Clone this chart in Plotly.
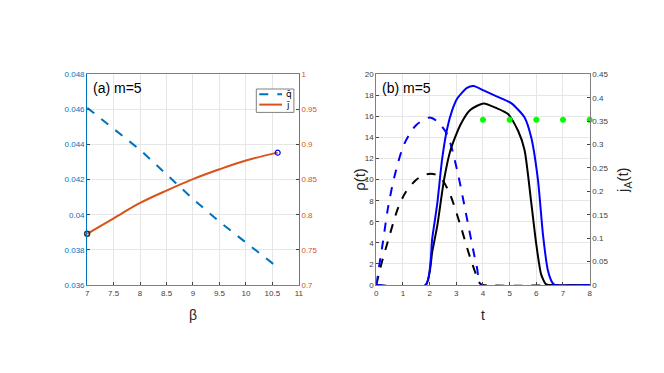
import plotly.graph_objects as go

# panel (a): averages vs beta
beta = [7.0, 7.5, 8.0, 8.5, 9.0, 9.5, 10.0, 10.6]
q_bar = [0.0461, 0.0449, 0.0437, 0.0423, 0.0409, 0.0396, 0.0384, 0.0370]
j_bar = [0.7728, 0.7948, 0.8168, 0.8345, 0.8508, 0.8648, 0.8773, 0.8885]

# panel (b): time traces
t_rho_blue = [0, 0.12, 0.25, 0.43, 0.68, 1.05, 1.5, 2.0, 2.3, 2.66, 3.03, 3.4, 3.77, 3.96, 8]
rho_blue = [0, 2, 4.1, 7.2, 10.3, 13.4, 15.2, 15.9, 15.5, 14.3, 10.9, 6.3, 1.7, 0, 0]
t_rho_black = [0, 0.19, 0.43, 0.8, 1.1, 1.5, 1.85, 2.2, 2.47, 2.78, 3.15, 3.52, 3.9, 4.0, 8]
rho_black = [0, 2, 4.1, 7.2, 8.8, 10.0, 10.5, 10.5, 10.0, 8.5, 5.7, 2.6, 0.1, 0, 0]

t_j_blue = [0, 1.85, 2.1, 2.29, 2.47, 2.66, 2.85, 3.03, 3.4, 3.65, 4.02, 4.51, 5.07, 5.56,
            5.81, 6.06, 6.25, 6.43, 6.6, 6.7, 8]
j_blue = [0, 0, 0.101, 0.176, 0.270, 0.335, 0.374, 0.398, 0.421, 0.425, 0.416, 0.403, 0.388,
          0.358, 0.315, 0.225, 0.107, 0.032, 0.005, 0, 0]
t_j_black = [0, 1.85, 2.1, 2.29, 2.54, 2.78, 3.15, 3.52, 4.02, 4.51, 4.95, 5.32, 5.56, 5.81,
             6.0, 6.18, 6.35, 6.45, 8]
j_black = [0, 0, 0.072, 0.128, 0.225, 0.288, 0.342, 0.374, 0.388, 0.378, 0.365, 0.329, 0.288,
           0.176, 0.086, 0.0225, 0.002, 0, 0]

t_green = [4, 5, 6, 7, 8]
j_green = [0.353, 0.353, 0.353, 0.353, 0.353]

legend_labels = ["q̄", "j̄"]

BLUE_M = "#0072BD"
ORANGE_M = "#D95319"
TICK = "#404040"
GRID = "#E6E6E6"
FONT = "Liberation Sans, Arial, sans-serif"

# page body adds 8px around the plot, so draw at 648x357
W, H = 648, 357

def px(x):
    return (x - 8) / W

def py(y):
    return 1 - (y - 8) / H

fig = go.Figure()

# panel (a)
fig.add_trace(go.Scatter(x=beta, y=q_bar, mode="lines", name=legend_labels[0],
                         line=dict(color=BLUE_M, width=2, dash="dash"),
                         xaxis="x", yaxis="y"))
fig.add_trace(go.Scatter(x=beta, y=j_bar, mode="lines", name=legend_labels[1],
                         line=dict(color=ORANGE_M, width=2, shape="spline"),
                         xaxis="x", yaxis="y2"))
fig.add_trace(go.Scatter(x=[beta[0]], y=[j_bar[0]], mode="markers",
                         marker=dict(symbol="circle-open", size=5, color="#333333",
                                     line=dict(width=1.5)),
                         cliponaxis=False, xaxis="x", yaxis="y2"))
fig.add_trace(go.Scatter(x=[beta[-1]], y=[j_bar[-1]], mode="markers",
                         marker=dict(symbol="circle-open", size=5, color="#0000FF",
                                     line=dict(width=1.2)),
                         xaxis="x", yaxis="y2"))

# panel (b)
fig.add_trace(go.Scatter(x=t_rho_black, y=rho_black, mode="lines",
                         line=dict(color="black", width=2, dash="dash", shape="spline", smoothing=0.8),
                         xaxis="x2", yaxis="y3"))
fig.add_trace(go.Scatter(x=t_rho_blue, y=rho_blue, mode="lines",
                         line=dict(color="#0000FF", width=2, dash="dash", shape="spline", smoothing=0.8),
                         xaxis="x2", yaxis="y3"))
fig.add_trace(go.Scatter(x=t_j_black, y=j_black, mode="lines",
                         line=dict(color="black", width=2, shape="spline", smoothing=0.6),
                         xaxis="x2", yaxis="y4"))
fig.add_trace(go.Scatter(x=t_j_blue, y=j_blue, mode="lines",
                         line=dict(color="#0000FF", width=2, shape="spline", smoothing=0.6),
                         xaxis="x2", yaxis="y4"))
fig.add_trace(go.Scatter(x=t_green, y=j_green, mode="markers",
                         marker=dict(symbol="asterisk-open", size=5, color="#00FF00",
                                     line=dict(width=2, color="#00FF00")),
                         cliponaxis=False, xaxis="x2", yaxis="y4"))

ax_common = dict(ticks="inside", ticklen=3, tickfont=dict(size=8, color=TICK, family=FONT),
                 showgrid=True, gridcolor=GRID, zeroline=False)

# small boxed legend like the matlab one
shapes = [
    dict(type="rect", xref="paper", yref="paper", x0=px(257), x1=px(295), y0=py(111), y1=py(87),
         line=dict(color="#808080", width=1), fillcolor="white", layer="above"),
    dict(type="line", xref="paper", yref="paper", x0=px(260), x1=px(283), y0=py(92.5), y1=py(92.5),
         line=dict(color=BLUE_M, width=2, dash="dash"), layer="above"),
    dict(type="line", xref="paper", yref="paper", x0=px(260), x1=px(283), y0=py(103), y1=py(103),
         line=dict(color=ORANGE_M, width=2), layer="above"),
]

y0, y1 = py(288), py(72)
fig.update_layout(
    width=W, height=H,
    margin=dict(l=0, r=0, t=0, b=0),
    paper_bgcolor="white", plot_bgcolor="white",
    font=dict(family=FONT, color="#262626"),
    showlegend=False,
    shapes=shapes,
    xaxis=dict(domain=[px(86), px(300)], range=[7, 11], dtick=0.5,
               showline=True, linecolor="#808080", mirror=True,
               title=dict(text="β", font=dict(size=14), standoff=13),
               anchor="y", **ax_common),
    yaxis=dict(domain=[y0, y1], range=[0.036, 0.048], dtick=0.002,
               showline=True, linecolor=BLUE_M, tickformat="~g",
               anchor="x", **{**ax_common, "tickfont": dict(size=8, color=BLUE_M, family=FONT)}),
    yaxis2=dict(range=[0.7, 1], dtick=0.05, overlaying="y", side="right", anchor="x",
                showline=True, linecolor=ORANGE_M, tickformat="~g", ticks="inside", ticklen=3,
                tickfont=dict(size=8, color=ORANGE_M, family=FONT),
                showgrid=False, zeroline=False),
    xaxis2=dict(domain=[px(378.3), px(594)], range=[0, 8], dtick=1,
                showline=True, linecolor="#808080", mirror=True,
                title=dict(text="t", font=dict(size=14), standoff=13),
                anchor="y3", **ax_common),
    yaxis3=dict(domain=[y0, y1], range=[0, 20], dtick=2,
                showline=True, linecolor="#808080",
                anchor="x2", **ax_common),
    yaxis4=dict(range=[0, 0.45], dtick=0.05, overlaying="y3", side="right", anchor="x2",
                showline=True, linecolor="#808080", tickformat="~g", ticks="inside", ticklen=3,
                tickfont=dict(size=8, color=TICK, family=FONT),
                title=dict(text="j<sub>A</sub>(t)", font=dict(size=15), standoff=10),
                showgrid=False, zeroline=False),
    annotations=[
        dict(text="ρ(t)", x=px(361), y=(y0 + y1) / 2, xref="paper", yref="paper",
             textangle=-90, showarrow=False, font=dict(size=15, color="#262626")),
        dict(text="(a) m=5", x=px(90), y=py(76), xref="paper", yref="paper",
             xanchor="left", yanchor="top", showarrow=False, font=dict(size=14, color="black")),
        dict(text="(b) m=5", x=px(382), y=py(76), xref="paper", yref="paper",
             xanchor="left", yanchor="top", showarrow=False, font=dict(size=14, color="black")),
        dict(text=legend_labels[0], x=px(285), y=py(92.5), xref="paper", yref="paper",
             xanchor="left", yanchor="middle", showarrow=False,
             font=dict(size=9, color="black", family="DejaVu Sans")),
        dict(text=legend_labels[1], x=px(285), y=py(103), xref="paper", yref="paper",
             xanchor="left", yanchor="middle", showarrow=False,
             font=dict(size=9, color="black", family="DejaVu Sans")),
    ],
)

fig.write_html("out.html")
